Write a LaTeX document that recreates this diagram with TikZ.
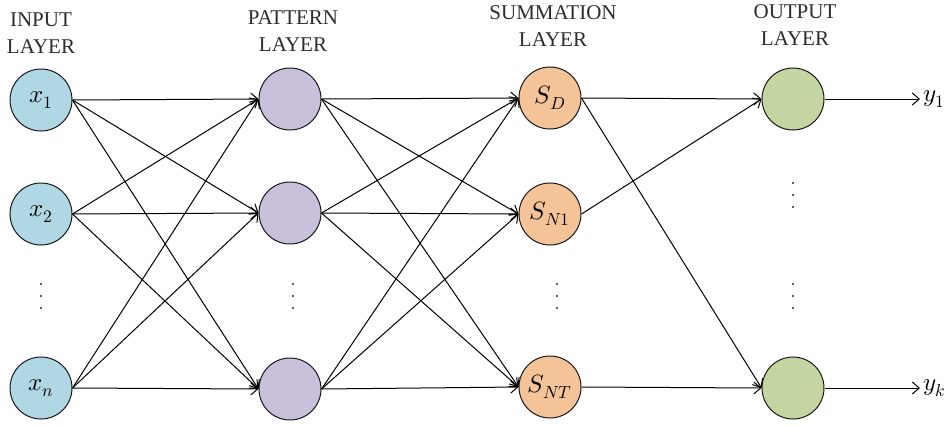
\documentclass[tikz,border=0pt]{standalone}
\usepackage{fontspec}
\usepackage{unicode-math}
\setmainfont{Liberation Serif}
\setmathfont{Latin Modern Math}
\usetikzlibrary{arrows.meta}
\definecolor{inblue}{RGB}{176,216,228}
\definecolor{patviolet}{RGB}{201,192,220}
\definecolor{sumpeach}{RGB}{244,196,152}
\definecolor{outgreen}{RGB}{197,213,162}
\definecolor{labelgray}{RGB}{45,45,45}
\begin{document}
\begin{tikzpicture}[x=1pt,y=-1pt,
  neuron/.style={circle,draw=black!90,line width=1pt,minimum size=62pt,inner sep=0pt,
    font=\fontsize{25}{28}\selectfont},
  inp/.style={neuron,fill=inblue},
  pat/.style={neuron,fill=patviolet},
  summ/.style={neuron,fill=sumpeach},
  outp/.style={neuron,fill=outgreen},
  layertitle/.style={align=center,text=labelgray,font=\fontsize{21}{27}\selectfont},
  link/.style={line width=1pt,draw=black,-{Straight Barb[length=7pt,width=12pt,line width=1pt]}},
  outlabel/.style={anchor=west,inner sep=3pt,font=\fontsize{25}{28}\selectfont}]
\useasboundingbox (0,0) rectangle (948,424);

% layer titles
\node[layertitle] (tin)  at (41,33)  {INPUT\\LAYER};
\node[layertitle] (tpat) at (293,31) {PATTERN\\LAYER};
\node[layertitle] (tsum) at (553,26) {SUMMATION\\LAYER};
\node[layertitle] (tout) at (795,25) {OUTPUT\\LAYER};

% input layer
\node[inp] (i1) at (41,100) {$x_1$};
\node[inp] (i2) at (41,214) {$x_2$};
\node[inp] (i3) at (41,388) {$x_n$};

% pattern layer
\node[pat] (p1) at (290,99)  {};
\node[pat] (p2) at (290,213) {};
\node[pat] (p3) at (290,389) {};

% summation layer
\node[summ] (s1) at (550,98)  {$S_D$};
\node[summ] (s2) at (550,214) {$S_{N1}$};
\node[summ] (s3) at (550,387) {$S_{NT}$};

% output layer
\node[outp] (o1) at (793,99)  {};
\node[outp] (o2) at (793,388) {};

% elided units
\foreach \x/\y in {41/284, 293/284, 557/284, 793/284, 793/183}
  \foreach \k in {0,12,24}
    \fill[black!85] (\x,\y+\k) circle (1.2pt);

% input -> pattern
\foreach \a in {1,2,3}
  \foreach \b in {1,2,3}
    \draw[link] (i\a.east) -- (p\b.west);

% pattern -> summation
\foreach \a in {1,2,3}
  \foreach \b in {1,2,3}
    \draw[link] (p\a.east) -- (s\b.west);

% summation -> output
\draw[link] (s1.east) -- (o1.west);
\draw[link] (s2.east) -- (o1.west);
\draw[link] (s1.east) -- (o2.west);
\draw[link] (s3.east) -- (o2.west);

% network outputs
\coordinate (e1) at (920,99);
\coordinate (e2) at (920,388);
\draw[link] (o1.east) -- (e1);
\draw[link] (o2.east) -- (e2);
\node[outlabel] (y1) at (e1) {$y_1$};
\node[outlabel] (yk) at (e2) {$y_k$};
\end{tikzpicture}
\end{document}
